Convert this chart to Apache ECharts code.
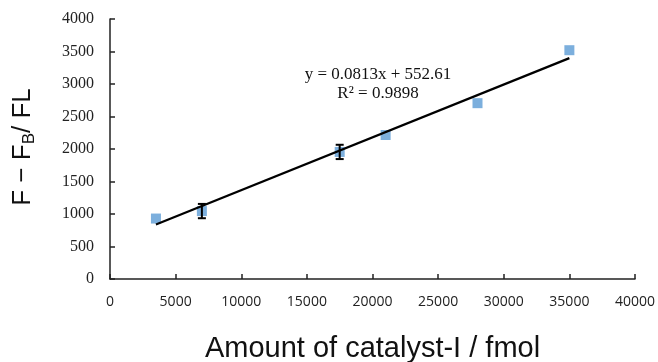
<!DOCTYPE html>
<html>
<head>
<meta charset="utf-8">
<script src="https://cdn.jsdelivr.net/npm/echarts@6/dist/echarts.min.js"></script>
<style>
  html, body { margin: 0; padding: 0; background: #fff; }
  #chart { width: 658px; height: 362px; }
</style>
</head>
<body>
<div id="chart"></div>
<script>
// measured points (amount in fmol, signal)
const amounts = [3500, 7000, 17500, 21000, 28000, 35000];
const signals = [930, 1045, 1955, 2215, 2705, 3520];
const errors = [0, 110, 110, 0, 0, 0];

// linear fit shown on the chart
const slope = 0.0813;
const intercept = 552.61;
const fitLabel = ['y = 0.0813x + 552.61', 'R² = 0.9898'];

const xTicks = [0, 5000, 10000, 15000, 20000, 25000, 30000, 35000, 40000];
const yTicks = [0, 500, 1000, 1500, 2000, 2500, 3000, 3500, 4000];

const chart = echarts.init(document.getElementById('chart'));

const points = amounts.map((x, i) => [x, signals[i]]);
const errData = amounts.map((x, i) => [x, signals[i] - errors[i], signals[i] + errors[i]]).filter((d, i) => errors[i] > 0);
const xMin = Math.min(...amounts);
const xMax = Math.max(...amounts);
const fitLine = [[xMin, slope * xMin + intercept], [xMax, slope * xMax + intercept]];

const option = {
    animation: false,
    grid: {
        left: 110,
        right: 23,
        top: 19,
        bottom: 83,
        outerBoundsMode: 'none',
    },
    xAxis: {
        type: 'value',
        min: xTicks[0],
        max: xTicks[xTicks.length - 1],
        interval: 5000,
        name: 'Amount of catalyst-I / fmol',
        nameLocation: 'middle',
        nameGap: 55,
        nameTextStyle: {
            fontFamily: 'Liberation Sans',
            fontSize: 29,
            color: '#111',
        },
        axisLine: { show: true, lineStyle: { color: '#222', width: 1.5 } },
        axisTick: { show: true, inside: true, length: 5, lineStyle: { color: '#222', width: 1.5 } },
        axisLabel: {
            margin: 16,
            fontFamily: 'Open Sans',
            fontSize: 14,
            color: '#222',
            formatter: (v) => String(v),
        },
        splitLine: { show: false },
    },
    yAxis: {
        type: 'value',
        min: yTicks[0],
        max: yTicks[yTicks.length - 1],
        interval: 500,
        axisLine: { show: true, lineStyle: { color: '#222', width: 1.5 } },
        axisTick: { show: true, inside: true, length: 5, lineStyle: { color: '#222', width: 1.5 } },
        axisLabel: {
            margin: 16,
            fontFamily: 'Liberation Serif',
            fontSize: 16,
            color: '#222',
            formatter: (v) => String(v),
        },
        splitLine: { show: false },
    },
    graphic: [
        {
            type: 'text',
            x: 23,
            y: 147,
            rotation: Math.PI / 2,
            style: {
                text: '{a|F − F}{s|B}{a|/ FL}',
                align: 'center',
                verticalAlign: 'middle',
                rich: {
                    a: { fontFamily: 'Liberation Sans', fontSize: 26, fill: '#111', lineHeight: 32 },
                    s: { fontFamily: 'Liberation Sans', fontSize: 17, fill: '#111', lineHeight: 32, padding: [12, 0, 0, 0] },
                },
            },
        },
        {
            type: 'text',
            x: 378,
            y: 75,
            style: {
                text: fitLabel[0],
                align: 'center',
                verticalAlign: 'middle',
                fontFamily: 'Liberation Serif',
                fontSize: 17,
                fill: '#111',
            },
        },
        {
            type: 'text',
            x: 378,
            y: 94,
            style: {
                text: fitLabel[1],
                align: 'center',
                verticalAlign: 'middle',
                fontFamily: 'Liberation Serif',
                fontSize: 17,
                fill: '#111',
            },
        },
    ],
    series: [
        {
            type: 'line',
            data: fitLine,
            symbol: 'none',
            lineStyle: { color: '#000', width: 2.2 },
            z: 3,
        },
        {
            type: 'scatter',
            data: points,
            symbol: 'rect',
            symbolSize: 10,
            itemStyle: { color: '#5B9BD5' },
            z: 2,
        },
        {
            type: 'custom',
            data: errData,
            z: 4,
            renderItem: function (params, api) {
                const lo = api.coord([api.value(0), api.value(1)]);
                const hi = api.coord([api.value(0), api.value(2)]);
                const w = 4;
                const st = { stroke: '#000', lineWidth: 2 };
                return {
                    type: 'group',
                    children: [
                        { type: 'line', shape: { x1: lo[0], y1: lo[1], x2: hi[0], y2: hi[1] }, style: st },
                        { type: 'line', shape: { x1: lo[0] - w, y1: lo[1], x2: lo[0] + w, y2: lo[1] }, style: st },
                        { type: 'line', shape: { x1: hi[0] - w, y1: hi[1], x2: hi[0] + w, y2: hi[1] }, style: st },
                    ],
                };
            },
        },
    ],
};

chart.setOption(option);
</script>
</body>
</html>
